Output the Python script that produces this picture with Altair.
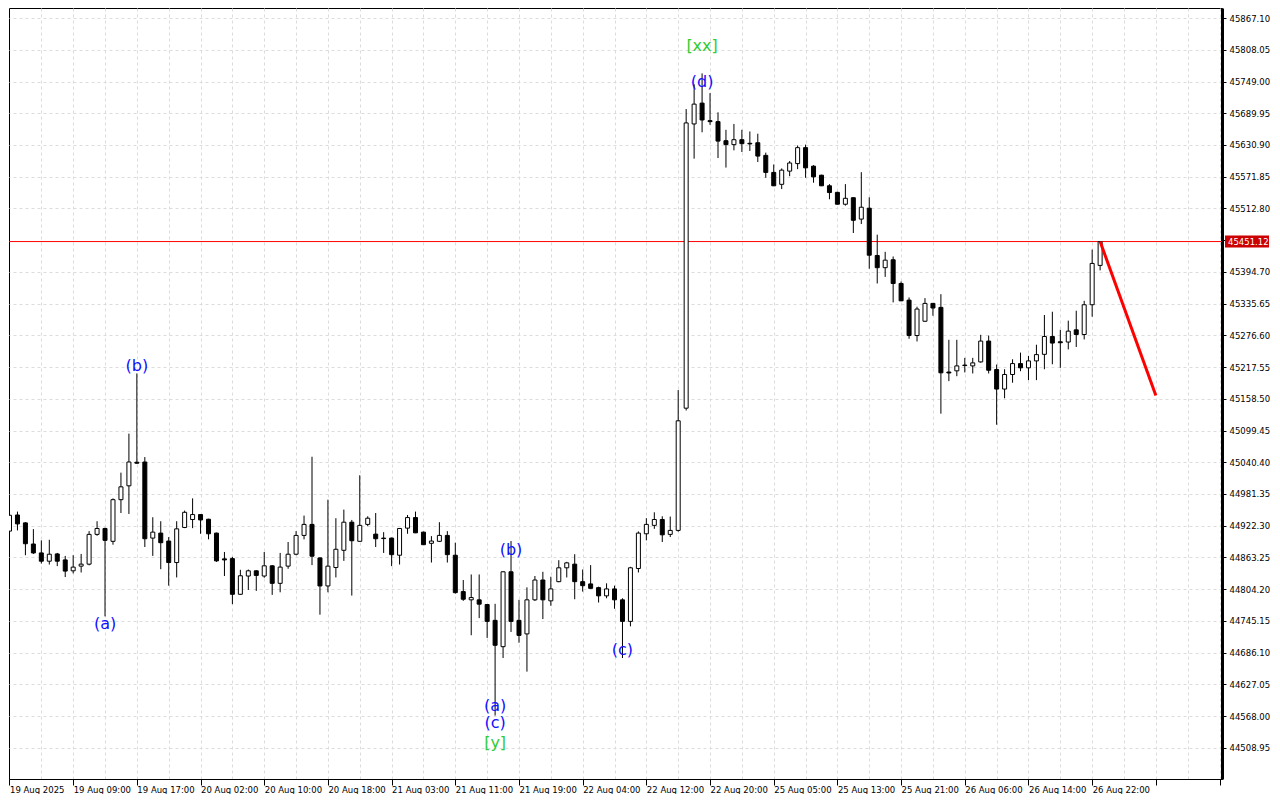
import json
import altair as alt
import pandas as pd

# ---------------- data ----------------
x_labels = ["19 Aug 2025", "19 Aug 09:00", "19 Aug 17:00", "20 Aug 02:00", "20 Aug 10:00",
            "20 Aug 18:00", "21 Aug 03:00", "21 Aug 11:00", "21 Aug 19:00", "22 Aug 04:00",
            "22 Aug 12:00", "22 Aug 20:00", "25 Aug 05:00", "25 Aug 13:00", "25 Aug 21:00",
            "26 Aug 06:00", "26 Aug 14:00", "26 Aug 22:00"]

y_ticks = [44508.95, 44568.00, 44627.05, 44686.10, 44745.15, 44804.20, 44863.25, 44922.30,
           44981.35, 45040.40, 45099.45, 45158.50, 45217.55, 45276.60, 45335.65, 45394.70,
           45453.75, 45512.80, 45571.85, 45630.90, 45689.95, 45749.00, 45808.05, 45867.10]

opens = [44912.2, 44942.2, 44927.5, 44888.2, 44871.6, 44856.2, 44869.7, 44858.6, 44838.3, 44847.0,
         44850.7, 44906.1, 44917.1, 44893.2, 44970.7, 44996.5, 45040.4, 45040.8, 44899.2, 44908.5,
         44893.7, 44853.7, 44919.0, 44933.8, 44943.0, 44934.3, 44908.5, 44860.5, 44861.0, 44794.6,
         44828.6, 44838.3, 44828.6, 44847.6, 44815.0, 44847.0, 44869.2, 44904.2, 44924.7, 44862.3,
         44810.1, 44844.4, 44876.5, 44928.8, 44893.2, 44924.7, 44906.6, 44899.2, 44899.2, 44867.3,
         44917.7, 44937.4, 44910.3, 44889.5, 44893.2, 44904.2, 44867.3, 44799.6, 44784.3, 44784.3,
         44775.6, 44746.1, 44697.1, 44836.5, 44746.1, 44720.9, 44784.3, 44821.2, 44782.4, 44818.1,
         44843.9, 44850.7, 44818.1, 44813.9, 44807.0, 44791.7, 44804.6, 44784.3, 44744.2, 44842.6,
         44907.2, 44922.9, 44933.8, 44906.1, 44913.5, 45141.0, 45670.0, 45708.8, 45676.1, 45674.3,
         45638.8, 45631.5, 45640.7, 45634.0, 45635.0, 45611.5, 45579.8, 45557.6, 45582.2, 45596.2,
         45625.9, 45591.4, 45574.6, 45554.9, 45542.7, 45520.6, 45532.7, 45492.9, 45513.2, 45425.2,
         45402.5, 45417.2, 45373.1, 45342.1, 45276.2, 45302.8, 45336.0, 45328.6, 45208.3, 45210.5,
         45221.2, 45219.7, 45227.1, 45265.9, 45212.9, 45176.6, 45203.7, 45224.0, 45216.1, 45229.0,
         45241.2, 45274.4, 45264.6, 45264.1, 45286.8, 45278.1, 45333.5, 45406.7]

highs = [44947.2, 44948.5, 44928.8, 44915.9, 44895.0, 44896.1, 44871.6, 44866.0, 44867.3, 44869.7,
         44912.2, 44930.6, 44918.6, 44973.1, 45021.0, 45093.6, 45205.6, 45050.0, 44938.0, 44930.6,
         44901.1, 44930.6, 44950.4, 44973.1, 44943.5, 44935.2, 44909.4, 44873.4, 44864.2, 44840.2,
         44840.7, 44839.3, 44873.4, 44848.9, 44871.6, 44891.9, 44912.2, 44941.1, 45050.6, 44863.3,
         44970.7, 44936.2, 44952.2, 44933.0, 45016.1, 44939.8, 44945.9, 44910.3, 44900.2, 44917.7,
         44942.2, 44948.5, 44911.2, 44902.9, 44928.8, 44912.2, 44890.6, 44821.2, 44831.5, 44831.5,
         44776.5, 44776.9, 44837.4, 44893.7, 44784.3, 44807.5, 44828.6, 44836.5, 44827.3, 44858.1,
         44855.0, 44869.2, 44840.7, 44848.9, 44808.8, 44815.0, 44810.7, 44787.2, 44845.7, 44911.6,
         44936.2, 44947.2, 44939.8, 44939.3, 45174.7, 45697.7, 45743.8, 45764.1, 45727.4, 45691.6,
         45659.1, 45670.0, 45659.1, 45656.0, 45651.8, 45616.6, 45594.6, 45587.2, 45601.0, 45630.0,
         45631.5, 45593.3, 45575.5, 45558.0, 45543.8, 45558.0, 45533.5, 45580.3, 45533.5, 45463.9,
         45432.0, 45423.3, 45376.8, 45347.1, 45329.8, 45345.8, 45336.6, 45353.2, 45268.3, 45268.3,
         45234.7, 45234.7, 45277.5, 45276.2, 45222.2, 45213.5, 45232.0, 45244.4, 45238.3, 45259.1,
         45314.4, 45320.5, 45286.8, 45303.9, 45322.4, 45340.8, 45436.2, 45451.1]

lows = [44908.5, 44913.5, 44867.3, 44869.7, 44851.8, 44850.0, 44847.0, 44826.7, 44833.4, 44835.2,
        44848.5, 44903.5, 44753.5, 44886.9, 44945.9, 44944.1, 45037.6, 44882.6, 44866.0, 44841.3,
        44810.7, 44826.0, 44917.7, 44917.7, 44907.2, 44896.9, 44855.0, 44828.6, 44776.2, 44793.5,
        44802.7, 44800.9, 44825.4, 44793.5, 44798.3, 44842.1, 44867.3, 44896.9, 44848.9, 44756.6,
        44798.3, 44826.0, 44856.8, 44792.2, 44892.8, 44921.4, 44882.6, 44871.6, 44847.0, 44850.0,
        44907.2, 44908.5, 44886.3, 44853.7, 44891.9, 44853.7, 44795.9, 44782.4, 44718.4, 44750.3,
        44713.4, 44568.9, 44676.0, 44724.5, 44704.5, 44650.7, 44782.1, 44748.5, 44773.2, 44817.1,
        44826.0, 44785.4, 44799.6, 44805.1, 44779.3, 44787.2, 44767.7, 44676.0, 44735.0, 44835.2,
        44895.0, 44916.4, 44891.9, 44901.1, 44911.2, 45136.7, 45605.4, 45654.5, 45668.4, 45606.6,
        45588.8, 45620.9, 45617.8, 45619.7, 45599.2, 45569.8, 45554.3, 45548.8, 45572.8, 45585.9,
        45569.8, 45560.6, 45554.3, 45529.8, 45520.2, 45518.0, 45467.0, 45483.7, 45400.6, 45373.1,
        45385.3, 45337.9, 45340.3, 45270.2, 45265.2, 45301.5, 45313.1, 45130.8, 45191.3, 45200.5,
        45207.6, 45205.6, 45225.8, 45205.6, 45110.2, 45159.4, 45188.4, 45209.8, 45193.2, 45193.2,
        45213.5, 45222.7, 45216.1, 45250.4, 45254.9, 45268.9, 45311.3, 45397.5]

closes = [44941.7, 44925.6, 44888.7, 44871.6, 44856.2, 44869.2, 44856.2, 44837.8, 44845.2, 44850.7,
          44906.1, 44917.1, 44895.0, 44970.7, 44994.6, 45040.8, 45038.6, 44898.0, 44910.3, 44890.6,
          44853.7, 44916.4, 44947.2, 44943.0, 44933.0, 44907.2, 44856.8, 44858.6, 44794.6, 44829.1,
          44838.3, 44829.7, 44847.6, 44815.0, 44845.2, 44869.2, 44904.2, 44924.7, 44865.5, 44810.1,
          44847.0, 44878.4, 44928.8, 44894.3, 44922.9, 44936.2, 44898.0, 44898.3, 44868.4, 44917.1,
          44937.4, 44909.0, 44886.9, 44893.7, 44904.2, 44868.4, 44797.7, 44785.4, 44788.5, 44776.2,
          44744.2, 44699.7, 44836.5, 44744.2, 44718.1, 44784.3, 44821.2, 44784.3, 44804.6, 44843.9,
          44853.1, 44818.1, 44810.7, 44805.7, 44791.7, 44804.6, 44784.3, 44744.2, 44843.9, 44908.5,
          44924.7, 44933.8, 44905.3, 44913.5, 45117.5, 45671.9, 45706.9, 45677.4, 45674.3, 45638.1,
          45631.5, 45640.7, 45633.3, 45632.9, 45610.2, 45579.8, 45554.9, 45584.0, 45597.3, 45625.9,
          45588.3, 45571.5, 45554.9, 45542.3, 45520.6, 45531.6, 45490.7, 45515.0, 45425.7, 45402.5,
          45416.5, 45373.1, 45340.8, 45276.2, 45325.5, 45336.0, 45327.4, 45206.8, 45206.5, 45219.7,
          45220.3, 45225.3, 45265.9, 45211.6, 45176.6, 45203.7, 45224.0, 45216.1, 45229.0, 45240.7,
          45274.4, 45262.2, 45262.8, 45284.4, 45278.1, 45333.5, 45410.4, 45451.1]

last_price = 45451.12
last_label = "45451.12"

proj_idx = [137, 144]
proj_price = [45451.12, 45164.4]

ann_text = ["(a)", "(b)", "(a)", "(c)", "[y]", "(b)", "(c)", "(d)", "[xx]"]
ann_idx = [12, 16, 61, 61, 61, 63, 77, 87, 87]
ann_price = [44738.7, 45220.3, 44587.4, 44554.2, 44517.3, 44877.1, 44690.7, 45748.1, 45814.5]
ann_color = ["#1010ff", "#1010ff", "#1010ff", "#1010ff", "#33cc33", "#1010ff", "#1010ff", "#1010ff", "#33cc33"]

# ---------------- chart ----------------
df = pd.DataFrame({"i": list(range(len(opens))), "o": opens, "h": highs, "l": lows, "c": closes})
ann_df = pd.DataFrame({"i": ann_idx, "p": ann_price, "t": ann_text, "col": ann_color})
proj_df = pd.DataFrame({"i": proj_idx, "p": proj_price})
last_df = pd.DataFrame({"p": [last_price], "t": [last_label]})

FONT = "DejaVu Sans"
GRID = "#dcdcdc"

x_scale = alt.Scale(domain=[-0.0625, 152.31], nice=False, zero=False, padding=0)
y_scale = alt.Scale(domain=[44450.83, 45885.8], nice=False, zero=False, padding=0)

label_expr_x = ("datum.value % 8 === 0 && datum.value <= 136 ? "
                + json.dumps(x_labels) + "[datum.value / 8] : ''")

x_axis = alt.Axis(
    values=list(range(0, 153, 4)), tickCount=200, labelExpr=label_expr_x, title=None,
    grid=True, gridDash=[3, 3], gridColor=GRID, gridWidth=1,
    gridOpacity={"condition": {"test": "datum.value === 0", "value": 0}, "value": 1},
    tickColor="black", tickSize=6, tickWidth=1,
    tickOpacity={"condition": {"test": "datum.value % 8 === 0", "value": 1}, "value": 0},
    labelAlign="left", labelBaseline="alphabetic", labelPadding=7,
    labelFont=FONT, labelFontSize=8.5, labelColor="black",
    labelOverlap=False, labelFlush=False, labelBound=False,
    domainColor="black", domainWidth=1,
)

y_axis = alt.Axis(
    orient="right", values=y_ticks, tickCount=200, title=None,
    labelExpr="datum.value == 45453.75 ? '' : format(datum.value, '.2f')",
    grid=True, gridDash=[3, 3], gridColor=GRID, gridWidth=1,
    gridOpacity={"condition": {"test": "datum.value == 45453.75", "value": 0}, "value": 1},
    tickColor="black", tickSize=4, tickWidth=1,
    labelAlign="left", labelBaseline="middle", labelPadding=3,
    labelFont=FONT, labelFontSize=8.5, labelColor="black",
    labelOverlap=False, labelFlush=False, labelBound=False,
    domainColor="black", domainWidth=3,
)

wicks = alt.Chart(df).mark_rule(color="black", strokeWidth=1, clip=True).encode(
    x=alt.X("i:Q", scale=x_scale, axis=x_axis),
    y=alt.Y("l:Q", scale=y_scale, axis=y_axis),
    y2="h:Q",
)

bodies = alt.Chart(df).mark_bar(size=4, stroke="black", strokeWidth=1, clip=True).encode(
    x="i:Q",
    y="o:Q",
    y2="c:Q",
    fill=alt.condition("datum.c >= datum.o", alt.value("white"), alt.value("black")),
)

hline = alt.Chart(last_df).mark_rule(color="#ff0000", strokeWidth=1).encode(y="p:Q")

proj = alt.Chart(proj_df).mark_line(color="#ff0000", strokeWidth=3).encode(x="i:Q", y="p:Q")

ann = alt.Chart(ann_df).mark_text(font=FONT, fontSize=16, align="center", baseline="middle").encode(
    x="i:Q", y="p:Q", text="t:N", color=alt.Color("col:N", scale=None),
)

box = alt.Chart(last_df).mark_rect(color="#cc0000", yOffset=-6, y2Offset=6).encode(
    x=alt.value(1216), x2=alt.value(1260), y="p:Q", y2="p:Q",
)

box_text = alt.Chart(last_df).mark_text(color="white", font=FONT, fontSize=8.5,
                                        align="left", baseline="middle").encode(
    x=alt.value(1219), y="p:Q", text="t:N",
)

chart = alt.layer(hline, wicks, bodies, proj, ann, box, box_text).properties(
    width=1213, height=771, padding=0, background="white",
).configure_view(stroke="black", strokeWidth=1)

chart.save("out.html", embed_options={"renderer": "svg", "actions": False})
